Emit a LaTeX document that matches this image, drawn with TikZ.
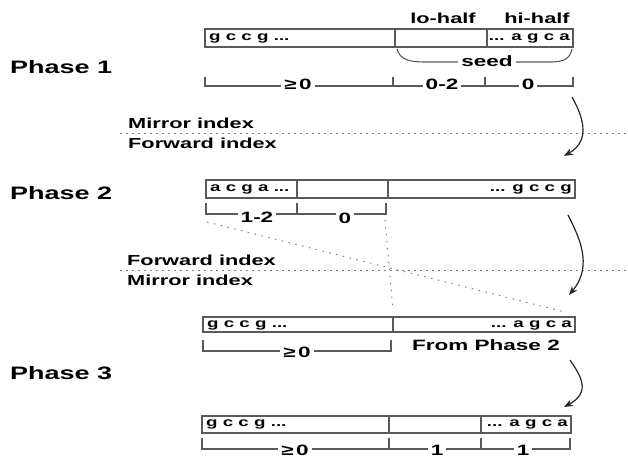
\documentclass[tikz,border=0pt]{standalone}
\usepackage{fontspec}
\setmainfont{Liberation Sans}[FakeStretch=1.5]
\usetikzlibrary{arrows.meta}
\definecolor{ln}{HTML}{5A5A5A}
\begin{document}
\begin{tikzpicture}[x=1pt,y=-1pt,
  box/.style={draw=ln, line width=1.3pt},
  brk/.style={draw=ln, line width=1.1pt},
  dotl/.style={draw=gray, line width=1pt, dash pattern=on 2pt off 4pt},
  sparse/.style={draw=gray, line width=1pt, dash pattern=on 1.5pt off 5.5pt},
  seq/.style={font=\bfseries\fontsize{12.5}{12.5}\selectfont, inner sep=0pt},
  phase/.style={font=\bfseries\fontsize{18}{18}\selectfont, anchor=west, inner sep=0pt},
  idx/.style={font=\bfseries\fontsize{14.5}{14.5}\selectfont, anchor=west, inner sep=0pt},
  num/.style={font=\bfseries\fontsize{15}{15}\selectfont, fill=white, inner xsep=3pt, inner ysep=0pt},
  hdr/.style={font=\bfseries\fontsize{14.5}{14.5}\selectfont, inner sep=0pt},
  flow/.style={draw=black!85, line width=1.2pt, -{Stealth[length=9pt,width=7pt]}},
]
\useasboundingbox (0,0) rectangle (628,458);

% phase labels
\node[phase] (p1) at (10,67) {Phase 1};
\node[phase] (p2) at (10,193) {Phase 2};
\node[phase] (p3) at (10,373) {Phase 3};

% index separators
\draw[dotl] (120,133) -- (628,133);
\node[idx] (mi1) at (128,123) {Mirror index};
\node[idx] (fi1) at (128,143) {Forward index};
\draw[dotl] (120,270) -- (628,270);
\node[idx] (fi2) at (127,260) {Forward index};
\node[idx] (mi2) at (127,280) {Mirror index};

% ---------- Phase 1 ----------
\node[hdr] (lo) at (443,18) {lo-half};
\node[hdr] (hi) at (537,18) {hi-half};
\draw[box] (205,29) rectangle (573,47);
\draw[box] (395,29) -- (395,47);
\draw[box] (487,29) -- (487,47);
\node[seq, anchor=west] (s1l) at (209,38) {g c c g ...};
\node[seq, anchor=east] (s1r) at (570,38) {... a g c a};
\draw[brk] (397,49) .. controls (400,60) and (410,62) .. (425,62) -- (550,62) .. controls (565,62) and (570,58) .. (572,49);
\node[num] (seed) at (487,61) {seed};
\draw[brk] (205,77) -- (205,86) -- (573,86) -- (573,77);
\draw[brk] (393,77) -- (393,86);
\draw[brk] (485,77) -- (485,86);
\node[num] (b1a) at (298,84) {≥\,0};
\node[num] (b1b) at (442,84) {0-2};
\node[num] (b1c) at (528,84) {0};

\coordinate (a1s) at (572,97);
\coordinate (a1e) at (564,156);
\draw[flow] (a1s) .. controls (582,115) and (592,140) .. (a1e);

% ---------- Phase 2 ----------
\draw[box] (206,180) rectangle (575,198);
\draw[box] (297,180) -- (297,198);
\draw[box] (388,180) -- (388,198);
\node[seq, anchor=west] (s2l) at (210,189) {a c g a ...};
\node[seq, anchor=east] (s2r) at (572,189) {... g c c g};
\draw[brk] (206,203) -- (206,214) -- (386,214) -- (386,203);
\draw[brk] (297,203) -- (297,214);
\node[num] (b2a) at (257,217) {1-2};
\node[num] (b2b) at (345,218) {0};

\draw[sparse] (207,222) -- (565,312);
\draw[sparse] (385,220) -- (393,310);

\coordinate (a2s) at (568,215);
\coordinate (a2e) at (569,295);
\draw[flow] (a2s) .. controls (578,235) and (594,265) .. (a2e);

% ---------- Phase 3 ----------
\draw[box] (203,317) rectangle (575,332);
\draw[box] (393,317) -- (393,332);
\node[seq, anchor=west] (s3l) at (207,325) {g c c g ...};
\node[seq, anchor=east] (s3r) at (572,325) {... a g c a};
\draw[brk] (203,340) -- (203,351) -- (391,351) -- (391,340);
\node[num] (b3a) at (297,352) {≥\,0};
\node[hdr, font=\bfseries\fontsize{15}{15}\selectfont] (from) at (486,345) {From Phase 2};

\coordinate (a3s) at (570,360);
\coordinate (a3e) at (564,407);
\draw[flow] (a3s) .. controls (580,375) and (592,392) .. (a3e);

\draw[box] (202,416) rectangle (571,433);
\draw[box] (389,416) -- (389,433);
\draw[box] (481,416) -- (481,433);
\node[seq, anchor=west] (s4l) at (206,424.5) {g c c g ...};
\node[seq, anchor=east] (s4r) at (568,424.5) {... a g c a};
\draw[brk] (202,438) -- (202,449) -- (570,449) -- (570,438);
\draw[brk] (389,438) -- (389,449);
\draw[brk] (481,438) -- (481,449);
\node[num] (b4a) at (295,450) {≥\,0};
\node[num] (b4b) at (437,450) {1};
\node[num] (b4c) at (523,450) {1};
\end{tikzpicture}
\end{document}
